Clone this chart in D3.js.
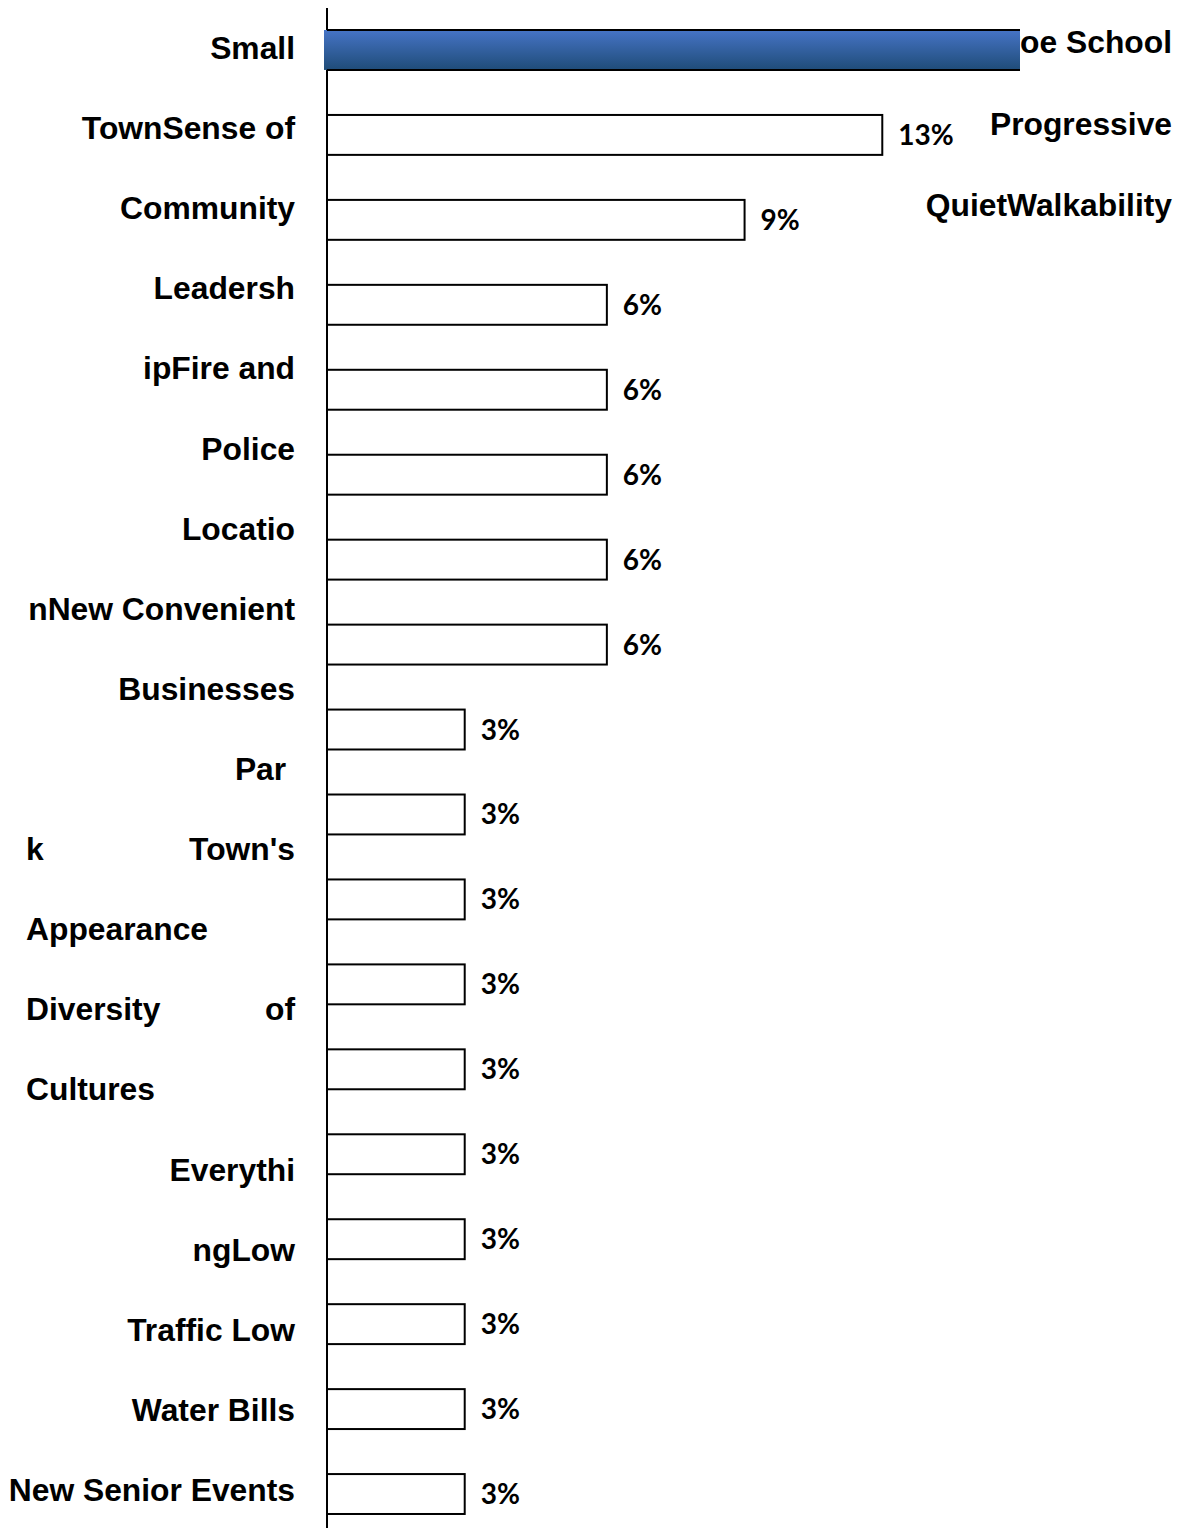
<!DOCTYPE html>
<html>
<head>
<meta charset="utf-8">
<script src="https://cdn.jsdelivr.net/npm/d3@7"></script>
<style>
  body { margin: 0; background: #fff; }
</style>
</head>
<body>
<div id="chart"></div>
<script>
// bar categories (top to bottom) and their shares in %
const categories = [
  "School", "Progressive", "Quiet", "Walkability", "Small Town",
  "Sense of Community", "Leadership", "Fire and Police", "Location",
  "New Businesses", "Convenient", "Park", "Town's Appearance",
  "Diversity of Cultures", "Everything", "Low Traffic",
  "Low Water Bills", "New Senior Events"
];
const values = [15.6, 12.5, 9.4, 6.3, 6.3, 6.3, 6.3, 6.3,
  3.1, 3.1, 3.1, 3.1, 3.1, 3.1, 3.1, 3.1, 3.1, 3.1];
const valueLabels = ["", "13%", "9%", "6%", "6%", "6%", "6%", "6%",
  "3%", "3%", "3%", "3%", "3%", "3%", "3%", "3%", "3%", "3%"];

// category text as it comes out wrapped on the left side
// [text right-aligned, text left-aligned]
const leftLines = [
  ["Small", ""], ["TownSense of", ""], ["Community", ""], ["Leadersh", ""],
  ["ipFire and", ""], ["Police", ""], ["Locatio", ""], ["nNew Convenient", ""],
  ["Businesses", ""], ["Par\u00a0", ""], ["Town's", "k"], ["", "Appearance"],
  ["of", "Diversity"], ["", "Cultures"], ["Everythi", ""], ["ngLow", ""],
  ["Traffic Low", ""], ["Water Bills", ""], ["New Senior Events", ""]
];
const rightLines = ["Conroe School", "Progressive", "QuietWalkability"];

const width = 1189, height = 1528;
const axisX = 327;

const svg = d3.select("#chart")
  .append("svg")
  .attr("width", width)
  .attr("height", height)
  .style("font-family", "'Liberation Sans', Arial, sans-serif");

svg.append("rect").attr("width", width).attr("height", height).attr("fill", "#fff");

const x = d3.scaleLinear().domain([0, 15.6]).range([axisX, 1020]);
const y = d3.scaleBand()
  .domain(categories)
  .range([7.5, 1536.5])
  .paddingInner(0.53)
  .paddingOuter(0.265);

const grad = svg.append("defs")
  .append("linearGradient")
  .attr("id", "blue")
  .attr("x1", "0%").attr("x2", "0%")
  .attr("y1", "0%").attr("y2", "100%");
grad.append("stop").attr("offset", "0%").style("stop-color", "#4674c6");
grad.append("stop").attr("offset", "100%").style("stop-color", "#1f4c78");

// text lines (drawn first, the top bar sits over the right one)
const lineY = d3.scalePoint().domain(d3.range(leftLines.length)).range([59, 1501]);
const lineRY = d3.scalePoint().domain(d3.range(rightLines.length)).range([53, 216]);

const textStyle = s => s
  .style("font-size", "31.8px")
  .style("font-weight", "bold")
  .style("fill", "#000");

svg.selectAll("text.r")
  .data(rightLines)
  .enter()
  .append("text")
  .attr("class", "r")
  .attr("text-anchor", "end")
  .attr("x", 1172)
  .attr("y", (d, i) => lineRY(i))
  .call(textStyle)
  .text(d => d);

svg.selectAll("text.la")
  .data(leftLines)
  .enter()
  .append("text")
  .attr("class", "la")
  .attr("text-anchor", "end")
  .attr("x", 295)
  .attr("y", (d, i) => lineY(i))
  .call(textStyle)
  .text(d => d[0]);

svg.selectAll("text.lb")
  .data(leftLines)
  .enter()
  .append("text")
  .attr("class", "lb")
  .attr("x", 26)
  .attr("y", (d, i) => lineY(i))
  .call(textStyle)
  .text(d => d[1]);

// axis line
svg.append("line")
  .attr("x1", axisX).attr("x2", axisX)
  .attr("y1", 8).attr("y2", height)
  .attr("stroke", "#000")
  .attr("stroke-width", 2);

const data = categories.map((c, i) => ({ cat: c, value: values[i], label: valueLabels[i] }));

// plain outlined bars
svg.selectAll("rect.bar")
  .data(data.slice(1))
  .enter()
  .append("rect")
  .attr("class", "bar")
  .attr("x", x(0))
  .attr("y", d => y(d.cat))
  .attr("width", d => x(d.value) - x(0))
  .attr("height", y.bandwidth())
  .attr("fill", "#fff")
  .attr("stroke", "#000")
  .attr("stroke-width", 2);

// highlighted top bar
const first = data[0];
svg.append("rect")
  .attr("x", x(0) - 3)
  .attr("y", y(first.cat))
  .attr("width", x(first.value) - x(0) + 3)
  .attr("height", y.bandwidth())
  .style("fill", "url(#blue)");
[y(first.cat), y(first.cat) + y.bandwidth()].forEach(yy => {
  svg.append("line")
    .attr("x1", x(0)).attr("x2", x(first.value))
    .attr("y1", yy).attr("y2", yy)
    .attr("stroke", "#000")
    .attr("stroke-width", 2);
});

// value labels
svg.selectAll("text.val")
  .data(data)
  .enter()
  .append("text")
  .attr("class", "val")
  .attr("x", d => x(d.value) + 16)
  .attr("y", d => y(d.cat) + y.bandwidth() / 2 + 10)
  .style("font-family", "Lato, 'Open Sans', sans-serif")
  .style("font-size", "28px")
  .style("font-weight", "bold")
  .style("fill", "#000")
  .text(d => d.label);
</script>
</body>
</html>
